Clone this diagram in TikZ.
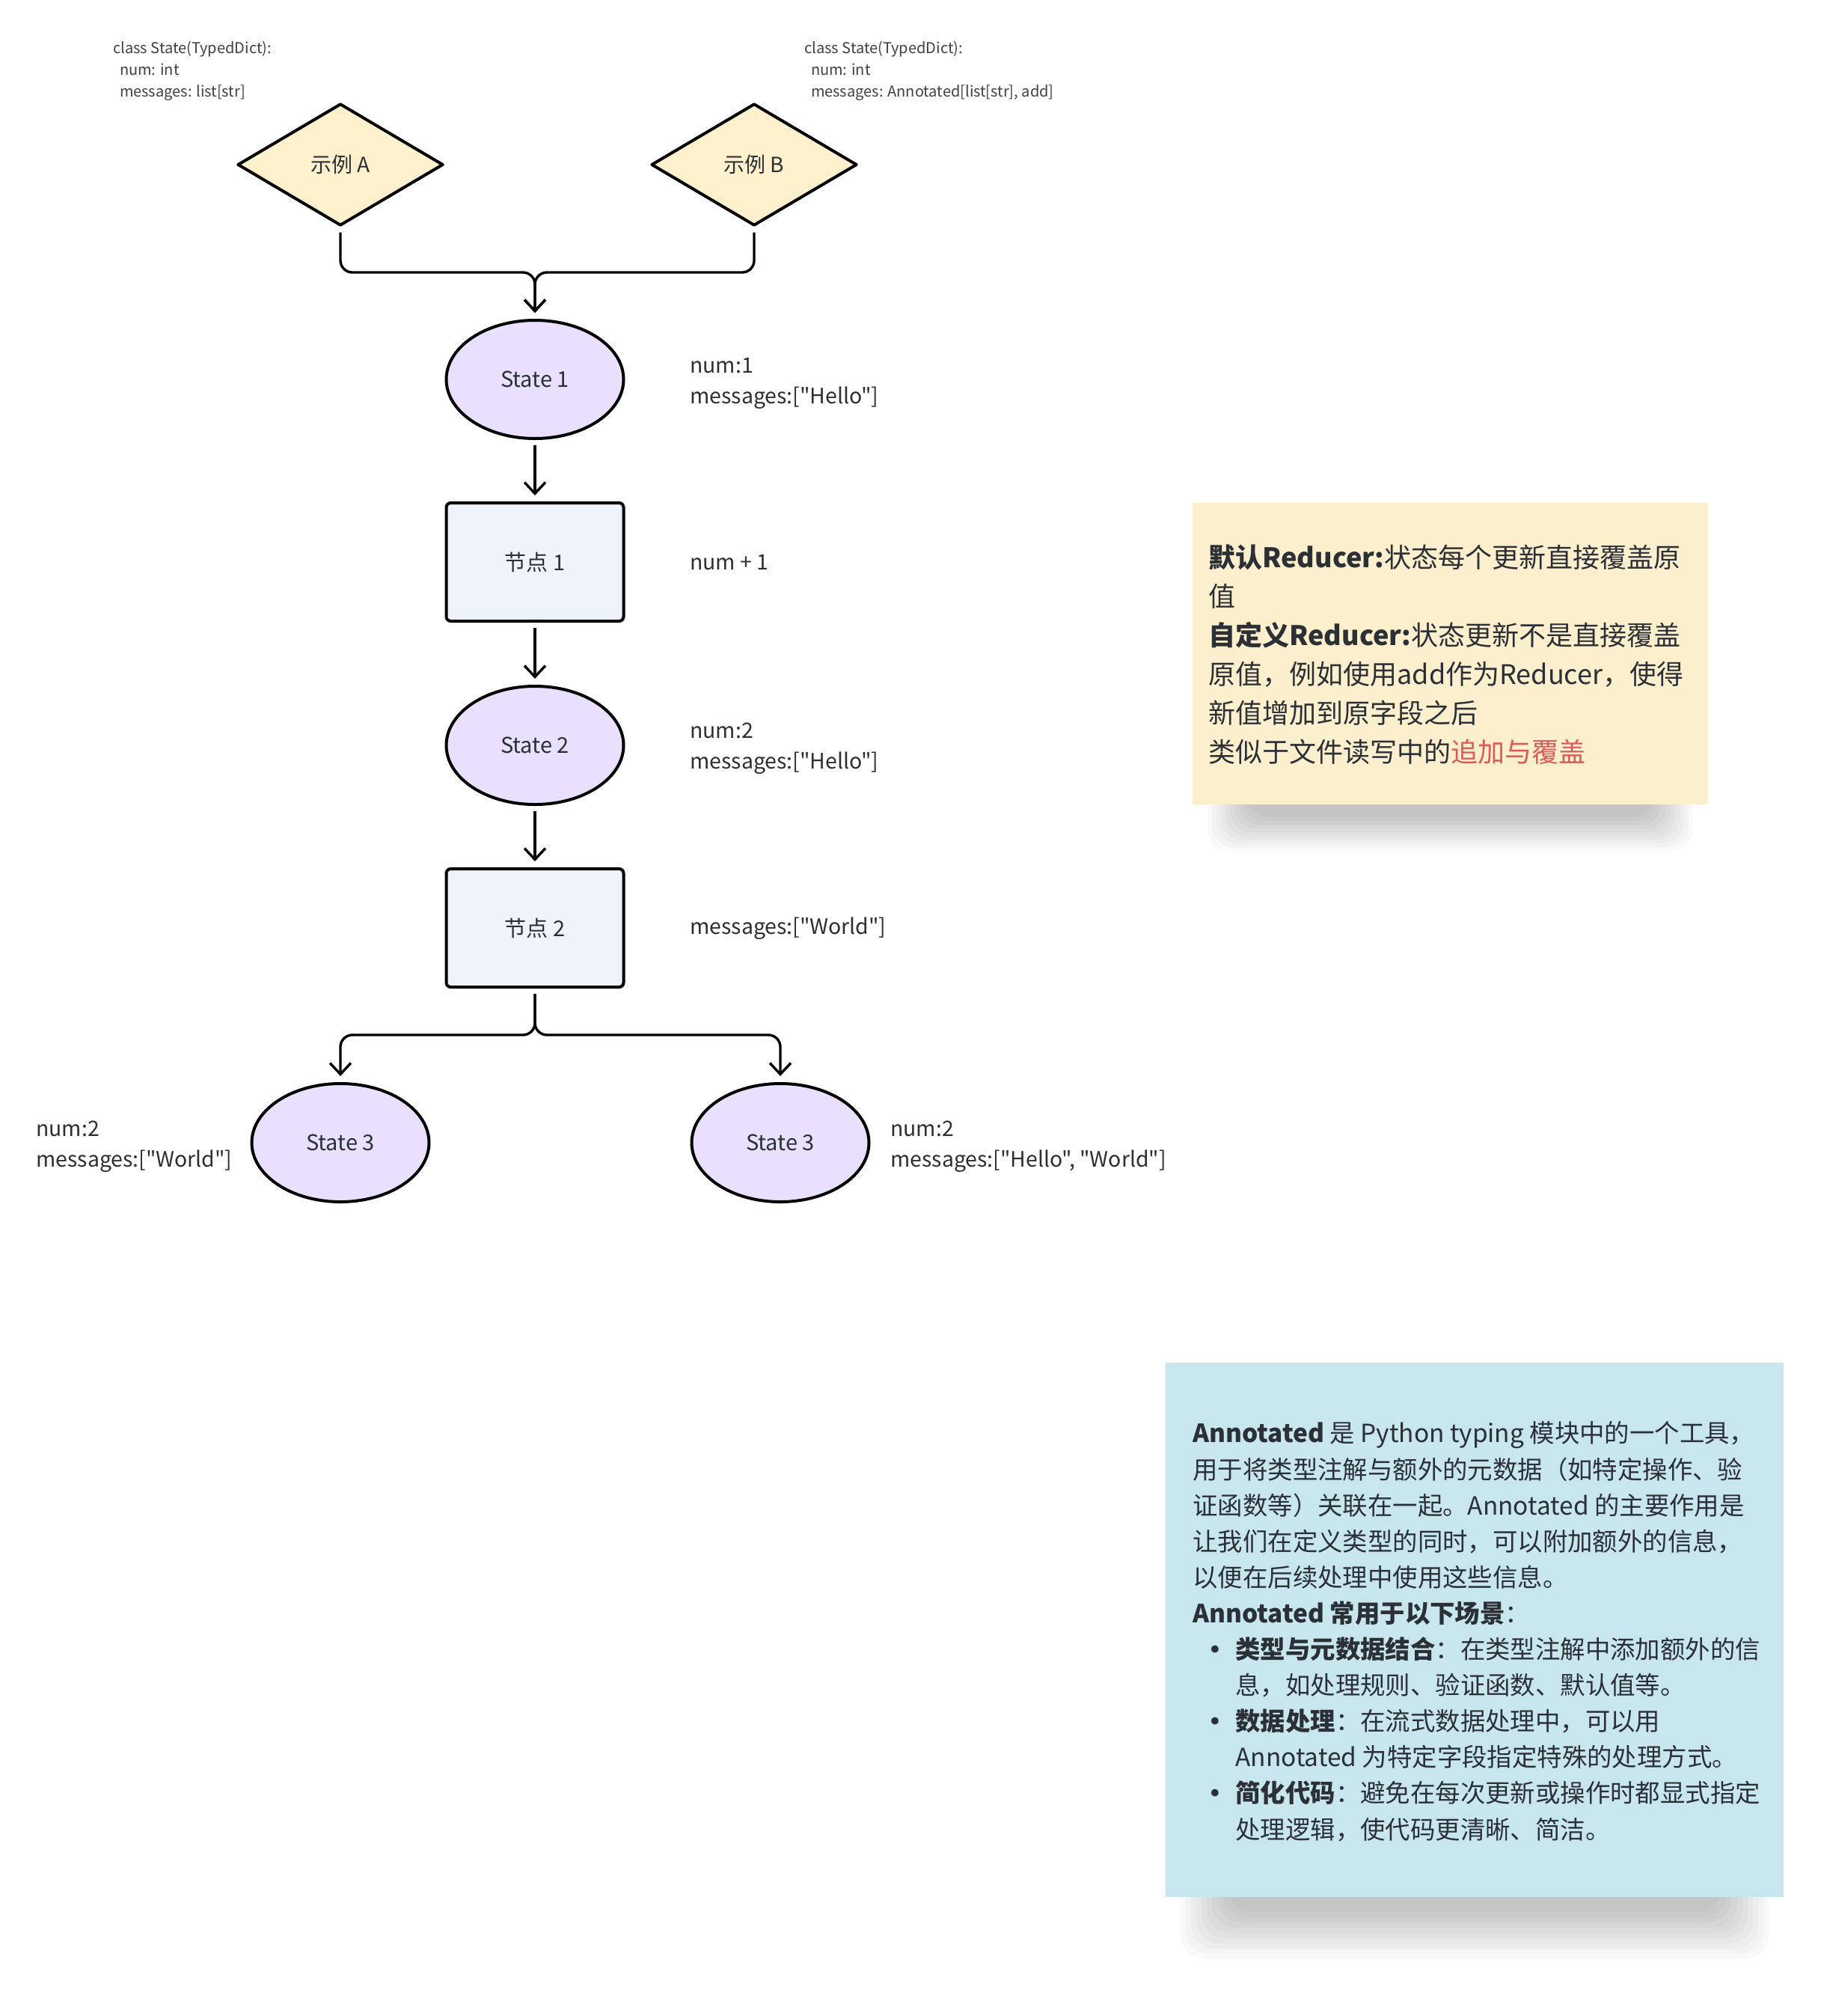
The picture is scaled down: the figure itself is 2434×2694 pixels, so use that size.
\documentclass[tikz,border=0pt]{standalone}
\usepackage{fontspec}
\setmainfont{Noto Sans CJK SC}[Ligatures=TeXOff]
\newfontfamily\dejavu{DejaVu Sans}
\usetikzlibrary{shapes.geometric,arrows.meta}
\definecolor{txt}{HTML}{2B2F36}
\definecolor{codec}{HTML}{3C4249}
\definecolor{dfill}{HTML}{FDF0CC}
\definecolor{efill}{HTML}{E8E0FD}
\definecolor{rfill}{HTML}{EFF3FC}
\definecolor{ynote}{HTML}{FCEFCD}
\definecolor{bnote}{HTML}{C8E6EE}
\definecolor{redt}{HTML}{DE5A5A}
\newcommand\bul{{\dejavu •}}
\tikzset{
 dia/.style={diamond, draw=black, line width=2pt, fill=dfill, minimum width=137.5pt, minimum height=81.5pt, inner sep=0pt, font=\fontsize{14}{16}\selectfont, text=txt, line join=round},
 ell/.style={ellipse, draw=black, line width=2pt, fill=efill, minimum width=118.5pt, minimum height=79pt, inner sep=0pt, font=\fontsize{14.5}{17}\selectfont, text=txt},
 procbox/.style={rectangle, rounded corners=3pt, draw=black, line width=2pt, fill=rfill, minimum width=118.5pt, minimum height=79pt, inner sep=0pt, font=\fontsize{14.5}{17}\selectfont, text=txt},
 lbl/.style={align=left, inner sep=0pt, font=\fontsize{14.2}{20.5}\selectfont, text=txt},
 codetxt/.style={align=left, inner sep=0pt, font=\fontsize{10}{14.5}\selectfont, text=codec},
 conn/.style={line width=1.7pt, rounded corners=8pt, shorten <=3.5pt, shorten >=4pt, -{Straight Barb[length=7.5pt,width=14pt]}},
 notebox/.style={rectangle, inner sep=0pt, draw=none},
}
\begin{document}
\begin{tikzpicture}[x=0.5pt,y=-0.5pt]
\useasboundingbox (0,0) rectangle (2434,2694);
\fill[white] (0,0) rectangle (2434,2694);

% code texts (anchor = baseline of last line)
\node[codetxt, anchor=base west] (ca) at (151,129.5) {class State(TypedDict):\\\hspace*{4.3pt}num: int\\\hspace*{4.3pt}messages: list[str]};
\node[codetxt, anchor=base west] (cb) at (1075,129.5) {class State(TypedDict):\\\hspace*{4.3pt}num: int\\\hspace*{4.3pt}messages: Annotated[list[str], add]};

% diamonds
\node[dia] (dA) at (455,220) {示例 A};
\node[dia] (dB) at (1008,220) {示例 B};

% flow nodes
\node[ell] (s1) at (715,507) {State 1};
\node[procbox] (n1) at (715,751) {节点 1};
\node[ell] (s2) at (715,996) {State 2};
\node[procbox] (n2) at (715,1240) {节点 2};
\node[ell] (s3a) at (455,1527) {State 3};
\node[ell] (s3b) at (1043,1527) {State 3};

% labels
\node[lbl, anchor=base west] (l1) at (922,539) {num:1\\messages:["Hello"]};
\node[lbl, anchor=west] (l2) at (922,752) {num + 1};
\node[lbl, anchor=base west] (l3) at (922,1027) {num:2\\messages:["Hello"]};
\node[lbl, anchor=west] (l4) at (922,1241) {messages:["World"]};
\node[lbl, anchor=base west] (l5) at (48,1559) {num:2\\messages:["World"]};
\node[lbl, anchor=base west] (l6) at (1190,1559) {num:2\\messages:["Hello", "World"]};

% connectors
\coordinate (jn) at (715,364);
\coordinate (sp) at (715,1383);
\draw[conn] (dA.south) -- (dA.south |- jn) -- (jn) -- (s1.north);
\draw[conn] (dB.south) -- (dB.south |- jn) -- (jn) -- (s1.north);
\draw[conn] (s1.south) -- (n1.north);
\draw[conn] (n1.south) -- (s2.north);
\draw[conn] (s2.south) -- (n2.north);
\draw[conn] (n2.south) -- (sp) -- (sp -| s3a.north) -- (s3a.north);
\draw[conn] (n2.south) -- (sp) -- (sp -| s3b.north) -- (s3b.north);

% yellow note
\foreach \k in {0,...,9}
  \fill[black,opacity=0.022,rounded corners=14pt] (1614+\k*6,732) rectangle (2263-\k*6,1137-\k*5);
\node[notebox, fill=ynote, minimum width=344.5pt, minimum height=201.5pt] (yn) at (1938.5,873.5) {};
\node[anchor=base west, align=left, inner sep=0pt, font=\fontsize{18}{26}\selectfont, text=txt] (yt) at (1615,1018)
 {\textbf{默认Reducer:}状态每个更新直接覆盖原\\值\\\textbf{自定义Reducer:}状态更新不是直接覆盖\\原值，例如使用add作为Reducer，使得\\新值增加到原字段之后\\类似于文件读写中的\textcolor{redt}{追加与覆盖}};

% blue note
\foreach \k in {0,...,9}
  \fill[black,opacity=0.022,rounded corners=16pt] (1578+\k*7,1881) rectangle (2364-\k*7,2618-\k*7);
\node[notebox, fill=bnote, minimum width=413pt, minimum height=357pt] (bn) at (1971,2178) {};
\node[anchor=base west, align=left, inner sep=0pt, font=\fontsize{16.7}{24.05}\selectfont, text=txt] (bt) at (1594,2457)
 {\textbf{Annotated} 是 Python typing 模块中的一个工具，\\
  用于将类型注解与额外的元数据（如特定操作、验\\
  证函数等）关联在一起。Annotated 的主要作用是\\
  让我们在定义类型的同时，可以附加额外的信息，\\
  以便在后续处理中使用这些信息。\\
  \textbf{Annotated 常用于以下场景}：\\
  \hspace*{10pt}\makebox[18.5pt][l]{\bul}\textbf{类型与元数据结合}：在类型注解中添加额外的信\\
  \hspace*{28.5pt}息，如处理规则、验证函数、默认值等。\\
  \hspace*{10pt}\makebox[18.5pt][l]{\bul}\textbf{数据处理}：在流式数据处理中，可以用\\
  \hspace*{28.5pt}Annotated 为特定字段指定特殊的处理方式。\\
  \hspace*{10pt}\makebox[18.5pt][l]{\bul}\textbf{简化代码}：避免在每次更新或操作时都显式指定\\
  \hspace*{28.5pt}处理逻辑，使代码更清晰、简洁。};
\end{tikzpicture}
\end{document}
